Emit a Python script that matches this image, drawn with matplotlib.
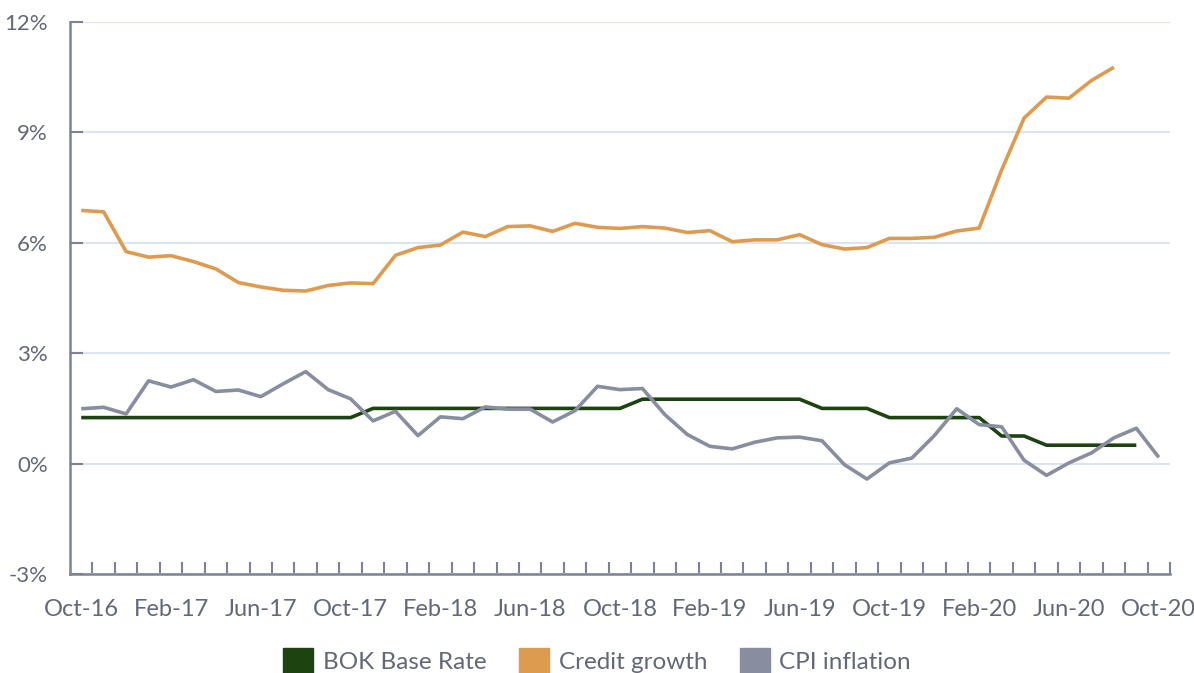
import matplotlib
matplotlib.use('Agg')
import matplotlib.pyplot as plt
from matplotlib.patches import Patch
from matplotlib.ticker import FixedLocator, FuncFormatter

plt.rcParams['font.family'] = ['Lato', 'DejaVu Sans']

months = ["Oct-16", "Nov-16", "Dec-16", "Jan-17", "Feb-17", "Mar-17", "Apr-17", "May-17",
          "Jun-17", "Jul-17", "Aug-17", "Sep-17", "Oct-17", "Nov-17", "Dec-17", "Jan-18",
          "Feb-18", "Mar-18", "Apr-18", "May-18", "Jun-18", "Jul-18", "Aug-18", "Sep-18",
          "Oct-18", "Nov-18", "Dec-18", "Jan-19", "Feb-19", "Mar-19", "Apr-19", "May-19",
          "Jun-19", "Jul-19", "Aug-19", "Sep-19", "Oct-19", "Nov-19", "Dec-19", "Jan-20",
          "Feb-20", "Mar-20", "Apr-20", "May-20", "Jun-20", "Jul-20", "Aug-20", "Sep-20",
          "Oct-20"]

bok_rate = [1.25] * 13 + [1.50] * 12 + [1.75] * 8 + [1.50] * 3 + [1.25] * 5 + \
           [0.75] * 2 + [0.50] * 5

credit_growth = [6.88, 6.84, 5.76, 5.61, 5.65, 5.49, 5.29, 4.92, 4.80, 4.71, 4.69, 4.84,
                 4.91, 4.89, 5.66, 5.87, 5.94, 6.29, 6.17, 6.44, 6.46, 6.31, 6.53, 6.42,
                 6.39, 6.44, 6.40, 6.28, 6.33, 6.03, 6.08, 6.08, 6.22, 5.95, 5.83, 5.87,
                 6.12, 6.12, 6.15, 6.32, 6.40, 7.98, 9.39, 9.96, 9.93, 10.41, 10.77]

cpi_inflation = [1.49, 1.53, 1.35, 2.25, 2.08, 2.28, 1.96, 2.00, 1.82, 2.17, 2.50, 2.01,
                 1.76, 1.16, 1.42, 0.76, 1.27, 1.22, 1.54, 1.48, 1.48, 1.13, 1.44, 2.10,
                 2.01, 2.04, 1.33, 0.79, 0.47, 0.40, 0.58, 0.70, 0.72, 0.62, -0.03, -0.42,
                 0.02, 0.15, 0.76, 1.49, 1.06, 1.00, 0.09, -0.32, 0.02, 0.29, 0.70, 0.96,
                 0.17]

c_bok = "#1d4410"
c_credit = "#dc9b4e"
c_cpi = "#888d9f"
c_axis = "#7b8296"
c_text = "#626879"
c_grid = "#dbe5f1"

fig = plt.figure(figsize=(11.94, 6.73), dpi=100)
ax = fig.add_axes([70 / 1194, 1 - 574 / 673, 1100 / 1194, 552 / 673])

ax.plot(range(len(bok_rate)), bok_rate, color=c_bok, lw=2.6, solid_capstyle='butt')
ax.plot(range(len(credit_growth)), credit_growth, color=c_credit, lw=2.6, solid_capstyle='butt')
ax.plot(range(len(cpi_inflation)), cpi_inflation, color=c_cpi, lw=2.6, solid_capstyle='butt')

ax.set_xlim(-0.5, len(months) - 0.5)
ax.set_ylim(-3, 12)
ax.set_yticks([-3, 0, 3, 6, 9, 12])
ax.yaxis.set_major_formatter(FuncFormatter(lambda v, p: f"{v:.0f}%"))
ax.grid(axis='y', color=c_grid, lw=1.5)
ax.set_axisbelow(True)

ax.set_xticks(range(0, len(months), 4))
ax.set_xticklabels(months[::4])
ax.xaxis.set_minor_locator(FixedLocator([i + 0.5 for i in range(len(months))]))
ax.tick_params(axis='x', which='major', length=0, pad=18, labelsize=17, labelcolor=c_text)
ax.tick_params(axis='x', which='minor', direction='in', length=8.5, width=1.5, color=c_axis)
ax.tick_params(axis='y', direction='in', length=9, width=1.5, color=c_axis,
               pad=16, labelsize=16, labelcolor=c_text)

for s in ['top', 'right']:
    ax.spines[s].set_visible(False)
for s in ['left', 'bottom']:
    ax.spines[s].set_color(c_axis)
    ax.spines[s].set_linewidth(1.8)

handles = [Patch(color=c_bok, label="BOK Base Rate"),
           Patch(color=c_credit, label="Credit growth"),
           Patch(color=c_cpi, label="CPI inflation")]
fig.legend(handles=handles, loc='center', bbox_to_anchor=(0.5, 1 - 661 / 673), ncol=3,
           frameon=False, fontsize=17.5, labelcolor=c_text, handlelength=1.25,
           handleheight=1.25, handletextpad=0.38, columnspacing=1.35)

fig.savefig("out.png", dpi=100)
